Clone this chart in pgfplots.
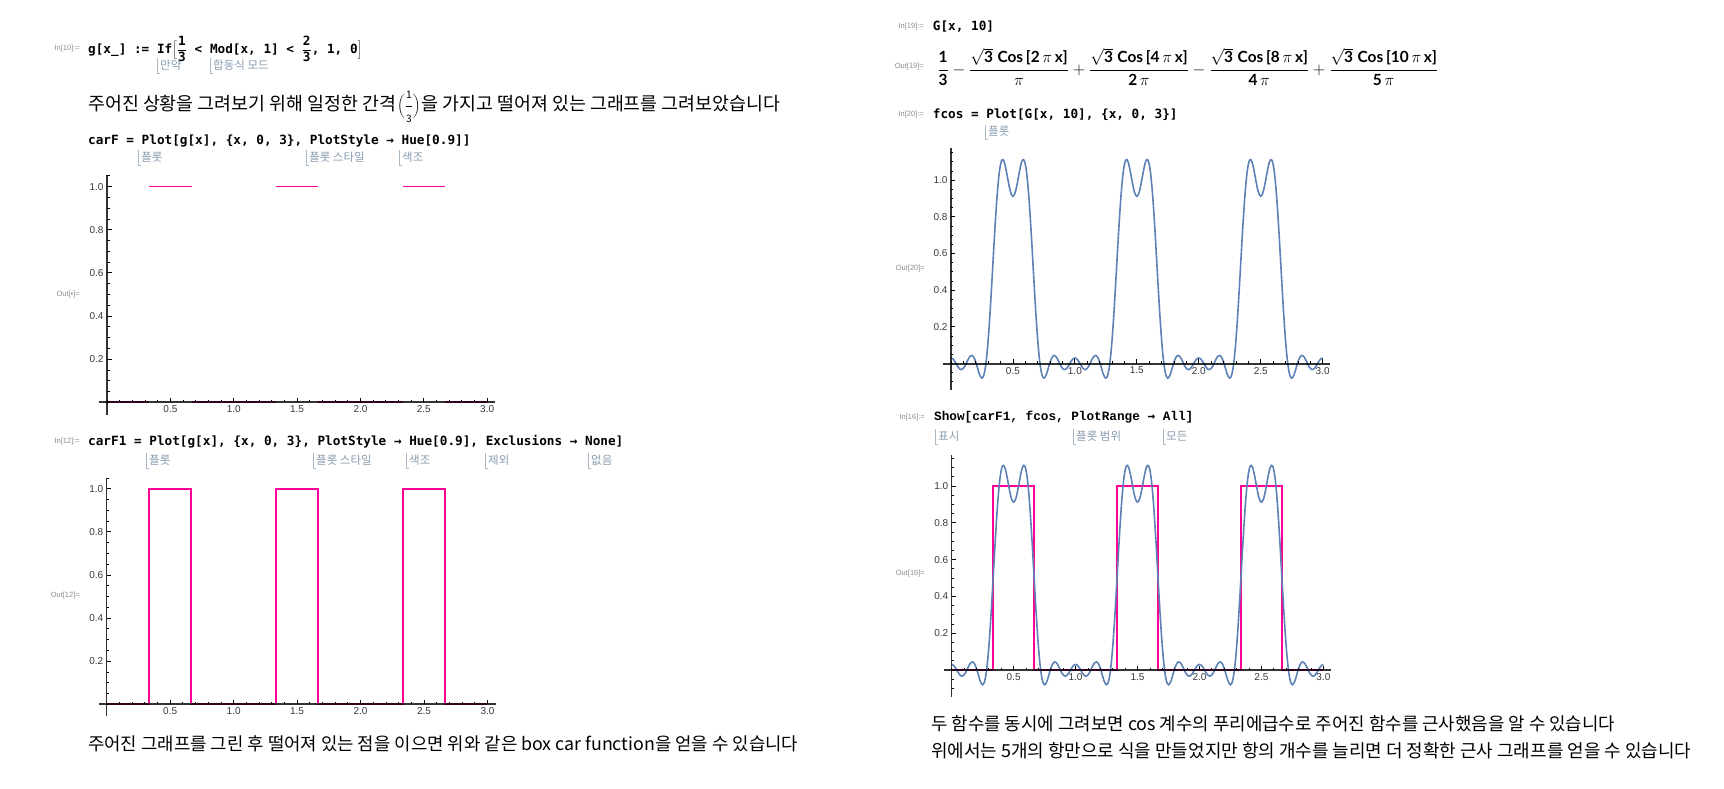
\documentclass[border=0pt]{standalone}
\usepackage{graphicx}
\usepackage{pgfplots}
\pgfplotsset{compat=1.18}
\usepackage{pgfplotstable}
\usepackage{fontspec}
\setmainfont{Liberation Sans}
\newfontfamily\krfam{Noto Sans CJK KR}
\newfontfamily\codefam{DejaVu Sans Mono}
\newfontfamily\cmono{Liberation Mono}
\newfontfamily\labfam{Liberation Sans}
\newfontfamily\outfam{Lato}

\definecolor{mpink}{rgb}{1,0,0.6}
\definecolor{mblue}{rgb}{0.368417,0.506779,0.709798}
\definecolor{anncol}{RGB}{135,155,175}
\definecolor{iocol}{RGB}{140,140,140}
\definecolor{tickcol}{RGB}{55,55,65}

\newcommand\codef{\codefam\bfseries\fontsize{12.7}{15}\selectfont}
\newcommand\krf{\krfam\fontsize{18}{21}\selectfont}
\newcommand\annf{\krfam\fontsize{11.5}{13}\selectfont}
\newcommand\iof{\labfam\fontsize{7.5}{9}\selectfont}
\newcommand\tickf{\labfam\fontsize{10}{11}\selectfont}
\newcommand\ob[1]{\hbox{\outfam\bfseries\fontsize{13.5}{16}\selectfont #1}}

\newcommand\ann[3]{%
  \draw[anncol!70, line width=0.7pt] (#1pt,#2pt+7pt) -- (#1pt,#2pt-8pt) -- (#1pt+3pt,#2pt-8pt);
  \node[anchor=west,inner sep=0,text=anncol,font=\annf] at (#1pt+3pt,#2pt) {#3};}
\newcommand\io[3]{\node[anchor=east,inner sep=0,text=iocol,font=\iof] at (#1pt,#2pt) {#3};}

\pgfplotsset{mma/.style={
  scale only axis, anchor=south west, axis lines=middle, axis on top,
  axis line style={-, draw=black, draw opacity=0.8},
  x axis line style={line width=2pt},
  y axis line style={line width=1.3pt},
  tick align=inside, major tick length=4.5pt, minor tick length=2.5pt,
  every tick/.style={black, line width=0.8pt},
  xtick={0,0.5,1,1.5,2,2.5,3}, xticklabels={,0.5,1.0,1.5,2.0,2.5,3.0},
  ytick={0,0.2,0.4,0.6,0.8,1}, yticklabels={,0.2,0.4,0.6,0.8,1.0},
  minor xtick={0,0.1,...,3.05},
  every tick label/.append style={font=\tickf, text=tickcol},
  clip=false,
}}

\pgfplotstableread[row sep=\\]{
x y\\
0.00 0.030\\ 0.01 0.028\\ 0.02 0.022\\ 0.03 0.012\\ 0.04 0.001\\ 0.05 -0.011\\ 0.06 -0.021\\ 0.07 -0.029\\ 0.08 -0.033\\ 0.09 -0.032\\
0.10 -0.026\\ 0.11 -0.017\\ 0.12 -0.004\\ 0.13 0.011\\ 0.14 0.024\\ 0.15 0.036\\ 0.16 0.042\\ 0.17 0.044\\ 0.18 0.038\\ 0.19 0.026\\
0.20 0.008\\ 0.21 -0.014\\ 0.22 -0.038\\ 0.23 -0.059\\ 0.24 -0.074\\ 0.25 -0.080\\ 0.26 -0.073\\ 0.27 -0.050\\ 0.28 -0.009\\ 0.29 0.050\\
0.30 0.128\\ 0.31 0.222\\ 0.32 0.329\\ 0.33 0.445\\ 0.34 0.565\\ 0.35 0.684\\ 0.36 0.795\\ 0.37 0.895\\ 0.38 0.978\\ 0.39 1.043\\
0.40 1.086\\ 0.41 1.109\\ 0.42 1.112\\ 0.43 1.099\\ 0.44 1.072\\ 0.45 1.038\\ 0.46 1.001\\ 0.47 0.966\\ 0.48 0.937\\ 0.49 0.919\\
0.50 0.912\\ 0.51 0.919\\ 0.52 0.937\\ 0.53 0.966\\ 0.54 1.001\\ 0.55 1.038\\ 0.56 1.072\\ 0.57 1.099\\ 0.58 1.112\\ 0.59 1.109\\
0.60 1.086\\ 0.61 1.043\\ 0.62 0.978\\ 0.63 0.895\\ 0.64 0.795\\ 0.65 0.684\\ 0.66 0.565\\ 0.67 0.445\\ 0.68 0.329\\ 0.69 0.222\\
0.70 0.128\\ 0.71 0.050\\ 0.72 -0.009\\ 0.73 -0.050\\ 0.74 -0.073\\ 0.75 -0.080\\ 0.76 -0.074\\ 0.77 -0.059\\ 0.78 -0.038\\ 0.79 -0.014\\
0.80 0.008\\ 0.81 0.026\\ 0.82 0.038\\ 0.83 0.044\\ 0.84 0.042\\ 0.85 0.036\\ 0.86 0.024\\ 0.87 0.011\\ 0.88 -0.004\\ 0.89 -0.017\\
0.90 -0.026\\ 0.91 -0.032\\ 0.92 -0.033\\ 0.93 -0.029\\ 0.94 -0.021\\ 0.95 -0.011\\ 0.96 0.001\\ 0.97 0.012\\ 0.98 0.022\\ 0.99 0.028\\
1.00 0.030\\ 1.01 0.028\\ 1.02 0.022\\ 1.03 0.012\\ 1.04 0.001\\ 1.05 -0.011\\ 1.06 -0.021\\ 1.07 -0.029\\ 1.08 -0.033\\ 1.09 -0.032\\
1.10 -0.026\\ 1.11 -0.017\\ 1.12 -0.004\\ 1.13 0.011\\ 1.14 0.024\\ 1.15 0.036\\ 1.16 0.042\\ 1.17 0.044\\ 1.18 0.038\\ 1.19 0.026\\
1.20 0.008\\ 1.21 -0.014\\ 1.22 -0.038\\ 1.23 -0.059\\ 1.24 -0.074\\ 1.25 -0.080\\ 1.26 -0.073\\ 1.27 -0.050\\ 1.28 -0.009\\ 1.29 0.050\\
1.30 0.128\\ 1.31 0.222\\ 1.32 0.329\\ 1.33 0.445\\ 1.34 0.565\\ 1.35 0.684\\ 1.36 0.795\\ 1.37 0.895\\ 1.38 0.978\\ 1.39 1.043\\
1.40 1.086\\ 1.41 1.109\\ 1.42 1.112\\ 1.43 1.099\\ 1.44 1.072\\ 1.45 1.038\\ 1.46 1.001\\ 1.47 0.966\\ 1.48 0.937\\ 1.49 0.919\\
1.50 0.912\\ 1.51 0.919\\ 1.52 0.937\\ 1.53 0.966\\ 1.54 1.001\\ 1.55 1.038\\ 1.56 1.072\\ 1.57 1.099\\ 1.58 1.112\\ 1.59 1.109\\
1.60 1.086\\ 1.61 1.043\\ 1.62 0.978\\ 1.63 0.895\\ 1.64 0.795\\ 1.65 0.684\\ 1.66 0.565\\ 1.67 0.445\\ 1.68 0.329\\ 1.69 0.222\\
1.70 0.128\\ 1.71 0.050\\ 1.72 -0.009\\ 1.73 -0.050\\ 1.74 -0.073\\ 1.75 -0.080\\ 1.76 -0.074\\ 1.77 -0.059\\ 1.78 -0.038\\ 1.79 -0.014\\
1.80 0.008\\ 1.81 0.026\\ 1.82 0.038\\ 1.83 0.044\\ 1.84 0.042\\ 1.85 0.036\\ 1.86 0.024\\ 1.87 0.011\\ 1.88 -0.004\\ 1.89 -0.017\\
1.90 -0.026\\ 1.91 -0.032\\ 1.92 -0.033\\ 1.93 -0.029\\ 1.94 -0.021\\ 1.95 -0.011\\ 1.96 0.001\\ 1.97 0.012\\ 1.98 0.022\\ 1.99 0.028\\
2.00 0.030\\ 2.01 0.028\\ 2.02 0.022\\ 2.03 0.012\\ 2.04 0.001\\ 2.05 -0.011\\ 2.06 -0.021\\ 2.07 -0.029\\ 2.08 -0.033\\ 2.09 -0.032\\
2.10 -0.026\\ 2.11 -0.017\\ 2.12 -0.004\\ 2.13 0.011\\ 2.14 0.024\\ 2.15 0.036\\ 2.16 0.042\\ 2.17 0.044\\ 2.18 0.038\\ 2.19 0.026\\
2.20 0.008\\ 2.21 -0.014\\ 2.22 -0.038\\ 2.23 -0.059\\ 2.24 -0.074\\ 2.25 -0.080\\ 2.26 -0.073\\ 2.27 -0.050\\ 2.28 -0.009\\ 2.29 0.050\\
2.30 0.128\\ 2.31 0.222\\ 2.32 0.329\\ 2.33 0.445\\ 2.34 0.565\\ 2.35 0.684\\ 2.36 0.795\\ 2.37 0.895\\ 2.38 0.978\\ 2.39 1.043\\
2.40 1.086\\ 2.41 1.109\\ 2.42 1.112\\ 2.43 1.099\\ 2.44 1.072\\ 2.45 1.038\\ 2.46 1.001\\ 2.47 0.966\\ 2.48 0.937\\ 2.49 0.919\\
2.50 0.912\\ 2.51 0.919\\ 2.52 0.937\\ 2.53 0.966\\ 2.54 1.001\\ 2.55 1.038\\ 2.56 1.072\\ 2.57 1.099\\ 2.58 1.112\\ 2.59 1.109\\
2.60 1.086\\ 2.61 1.043\\ 2.62 0.978\\ 2.63 0.895\\ 2.64 0.795\\ 2.65 0.684\\ 2.66 0.565\\ 2.67 0.445\\ 2.68 0.329\\ 2.69 0.222\\
2.70 0.128\\ 2.71 0.050\\ 2.72 -0.009\\ 2.73 -0.050\\ 2.74 -0.073\\ 2.75 -0.080\\ 2.76 -0.074\\ 2.77 -0.059\\ 2.78 -0.038\\ 2.79 -0.014\\
2.80 0.008\\ 2.81 0.026\\ 2.82 0.038\\ 2.83 0.044\\ 2.84 0.042\\ 2.85 0.036\\ 2.86 0.024\\ 2.87 0.011\\ 2.88 -0.004\\ 2.89 -0.017\\
2.90 -0.026\\ 2.91 -0.032\\ 2.92 -0.033\\ 2.93 -0.029\\ 2.94 -0.021\\ 2.95 -0.011\\ 2.96 0.001\\ 2.97 0.012\\ 2.98 0.022\\ 2.99 0.028\\
3.00 0.030\\
}\fcostable

\begin{document}
\begin{tikzpicture}
\useasboundingbox (0pt,0pt) rectangle (1724pt,788pt);

% ---------------- left column ----------------
\io{80}{739}{In[10]:=}
\node[anchor=west,inner sep=0] at (88pt,739pt) {\codef g[x\_] := If$\Bigl[\displaystyle\frac{\hbox{\codef 1}}{\hbox{\codef 3}}$ < Mod[x, 1] < $\displaystyle\frac{\hbox{\codef 2}}{\hbox{\codef 3}}$, 1, 0$\Bigr]$};
\ann{157}{723}{만약}
\ann{210}{723}{합동식 모드}

\node[anchor=west,inner sep=0] at (88pt,681pt) {\resizebox{692pt}{!}{\krf 주어진 상황을 그려보기 위해 일정한 간격\kern1pt$\displaystyle\biggl(\frac{\hbox{\krfam\fontsize{10}{10}\selectfont 1}}{\hbox{\krfam\fontsize{10}{10}\selectfont 3}}\biggr)$\kern1pt 을 가지고 떨어져 있는 그래프를 그려보았습니다}};

\node[anchor=west,inner sep=0] at (88pt,647.3pt) {\codef carF = Plot[g[x], \{x, 0, 3\}, PlotStyle → Hue[0.9]]};
\ann{138}{631}{플롯}
\ann{306}{631}{플롯 스타일}
\ann{399}{631}{색조}
\io{80}{493}{Out[•]=}

\begin{axis}[mma, at={(98.8pt,372.8pt)}, width=396.6pt, height=240.5pt,
  xmin=-0.065, xmax=3.065, ymin=-0.06, ymax=1.055, minor ytick={0,0.05,...,1.06}]
\addplot[mpink, line width=1.8pt] coordinates {(0.3333,1) (0.6667,1)};
\addplot[mpink, line width=1.8pt] coordinates {(1.3333,1) (1.6667,1)};
\addplot[mpink, line width=1.8pt] coordinates {(2.3333,1) (2.6667,1)};
\addplot[mpink, line width=1.8pt] coordinates {(0,0) (0.3333,0)};
\addplot[mpink, line width=1.8pt] coordinates {(0.6667,0) (1.3333,0)};
\addplot[mpink, line width=1.8pt] coordinates {(1.6667,0) (2.3333,0)};
\addplot[mpink, line width=1.8pt] coordinates {(2.6667,0) (3,0)};
\end{axis}

\io{80}{346}{In[12]:=}
\node[anchor=west,inner sep=0] at (88pt,346pt) {\codef carF1 = Plot[g[x], \{x, 0, 3\}, PlotStyle → Hue[0.9], Exclusions → None]};
\ann{146}{328}{플롯}
\ann{313}{328}{플롯 스타일}
\ann{406}{328}{색조}
\ann{485}{328}{제외}
\ann{588}{328}{없음}
\io{80}{192.3}{Out[12]=}

\begin{axis}[mma, at={(98.5pt,71.9pt)}, width=397.2pt, height=238.3pt,
  xmin=-0.065, xmax=3.065, ymin=-0.055, ymax=1.051, minor ytick={0,0.05,...,1.06}]
\addplot[mpink, line width=1.8pt] coordinates {(0,0) (0.3333,0) (0.3333,1) (0.6667,1) (0.6667,0) (1.3333,0) (1.3333,1) (1.6667,1) (1.6667,0) (2.3333,0) (2.3333,1) (2.6667,1) (2.6667,0) (3,0)};
\end{axis}

\node[anchor=west,inner sep=0] at (88pt,44pt) {\resizebox{710pt}{!}{\krf 주어진 그래프를 그린 후 떨어져 있는 점을 이으면 위와 같은 box car function을 얻을 수 있습니다}};

% ---------------- right column ----------------
\io{924}{761.3}{In[19]:=}
\node[anchor=west,inner sep=0] at (932.7pt,761.3pt) {\codef G[x, 10]};
\io{924}{721.3}{Out[19]=}
\node[anchor=west,inner sep=0] at (937pt,721.3pt) {\resizebox{501pt}{!}{\fontsize{13.5}{16}\selectfont $\displaystyle
\frac{\ob{1}}{\ob{3}}
-\frac{\sqrt{\ob{3}}\;\ob{Cos}\,\ob{[}\ob{2}\,\pi\,\ob{x}\ob{]}}{\pi}
+\frac{\sqrt{\ob{3}}\;\ob{Cos}\,\ob{[}\ob{4}\,\pi\,\ob{x}\ob{]}}{\ob{2}\,\pi}
-\frac{\sqrt{\ob{3}}\;\ob{Cos}\,\ob{[}\ob{8}\,\pi\,\ob{x}\ob{]}}{\ob{4}\,\pi}
+\frac{\sqrt{\ob{3}}\;\ob{Cos}\,\ob{[}\ob{10}\,\pi\,\ob{x}\ob{]}}{\ob{5}\,\pi}$}};

\io{924}{673}{In[20]:=}
\node[anchor=west,inner sep=0] at (932.7pt,673pt) {\codef fcos = Plot[G[x, 10], \{x, 0, 3\}]};
\ann{985}{656.3}{플롯}
\io{925}{519.7}{Out[20]=}

\begin{axis}[mma, at={(943.3pt,397.9pt)}, width=386.8pt, height=242pt,
  xmin=-0.062, xmax=3.06, ymin=-0.145, ymax=1.175, minor ytick={-0.15,-0.1,...,1.16}]
\addplot[mblue, line width=1.6pt, smooth] table[x=x,y=y] {\fcostable};
\end{axis}

\io{925}{370.7}{In[16]:=}
\node[anchor=west,inner sep=0] at (934pt,370.7pt) {\cmono\bfseries\fontsize{12.7}{15}\selectfont Show[carF1, fcos, PlotRange {\codef →} All]};
\ann{935}{352}{표시}
\ann{1073}{352}{플롯 범위}
\ann{1163}{352}{모든}
\io{925}{214}{Out[16]=}

\begin{axis}[mma, at={(944pt,91.3pt)}, width=386.8pt, height=241.6pt,
  xmin=-0.062, xmax=3.06, ymin=-0.145, ymax=1.168, minor ytick={-0.15,-0.1,...,1.16}]
\addplot[mpink, line width=1.8pt] coordinates {(0,0) (0.3333,0) (0.3333,1) (0.6667,1) (0.6667,0) (1.3333,0) (1.3333,1) (1.6667,1) (1.6667,0) (2.3333,0) (2.3333,1) (2.6667,1) (2.6667,0) (3,0)};
\addplot[mblue, line width=1.6pt, smooth] table[x=x,y=y] {\fcostable};
\end{axis}

\node[anchor=west,inner sep=0] at (931pt,64.5pt) {\resizebox{684pt}{!}{\krf 두 함수를 동시에 그려보면 cos 계수의 푸리에급수로 주어진 함수를 근사했음을 알 수 있습니다}};
\node[anchor=west,inner sep=0] at (931pt,37pt) {\resizebox{760pt}{!}{\krf 위에서는 5개의 항만으로 식을 만들었지만 항의 개수를 늘리면 더 정확한 근사 그래프를 얻을 수 있습니다}};
\end{tikzpicture}
\end{document}
